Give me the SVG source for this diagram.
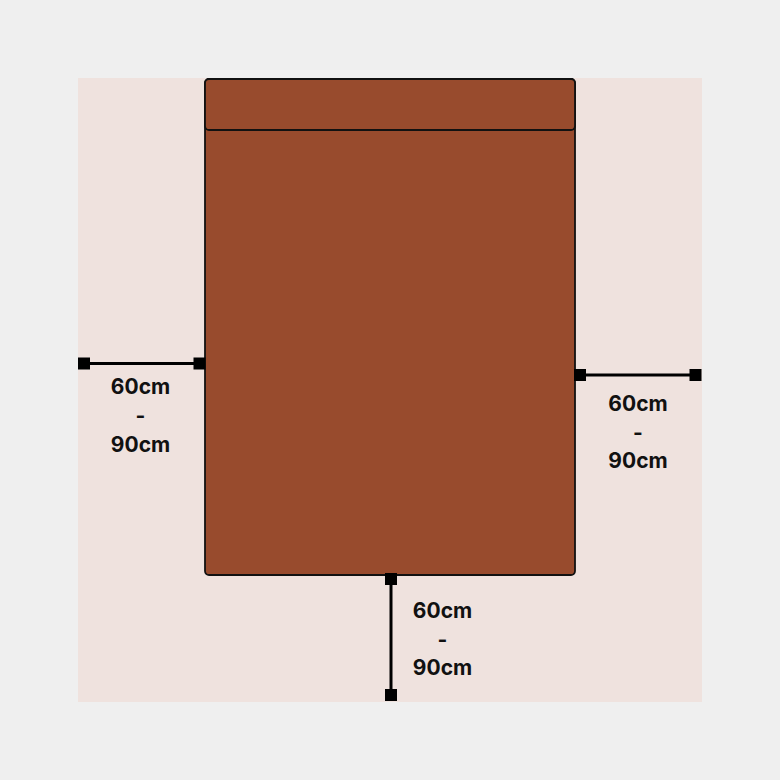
<svg xmlns="http://www.w3.org/2000/svg" width="780" height="780" viewBox="0 0 780 780">
<style>
.bed{fill:#984b2d;stroke:#111;stroke-width:1.8}
.dim{stroke:#000;stroke-width:3;fill:none}
.end{fill:#000}
.lbl{font-family:Inter,"Open Sans","DejaVu Sans",sans-serif;font-weight:700;font-size:21px;fill:#111;text-anchor:middle}
</style>
<rect x="0" y="0" width="780" height="780" fill="#efefef"/>
<rect x="78" y="78" width="624" height="624" fill="#efe2de"/>
<g id="bed">
<rect class="bed" x="205" y="79" width="370" height="496" rx="4"/>
<rect class="bed" x="205" y="79" width="370" height="51" rx="4"/>
</g>
<g id="connectors">
<line class="dim" x1="84" y1="363.5" x2="199.5" y2="363.5"/>
<rect class="end" x="78" y="357.5" width="12" height="12"/>
<rect class="end" x="193.5" y="357.5" width="12" height="12"/>
<line class="dim" x1="580" y1="375" x2="695.5" y2="375"/>
<rect class="end" x="574" y="369" width="12" height="12"/>
<rect class="end" x="689.5" y="369" width="12" height="12"/>
<line class="dim" x1="391" y1="579" x2="391" y2="695"/>
<rect class="end" x="385" y="573" width="12" height="12"/>
<rect class="end" x="385" y="689" width="12" height="12"/>
</g>
<g id="label-left">
<text class="lbl" x="140.5" y="394">60cm</text>
<text class="lbl" x="140.5" y="423">-</text>
<text class="lbl" x="140.5" y="452">90cm</text>
</g>
<g id="label-right">
<text class="lbl" x="638" y="411">60cm</text>
<text class="lbl" x="638" y="440">-</text>
<text class="lbl" x="638" y="468">90cm</text>
</g>
<g id="label-bottom">
<text class="lbl" x="442.5" y="618">60cm</text>
<text class="lbl" x="442.5" y="647">-</text>
<text class="lbl" x="442.5" y="675">90cm</text>
</g>
</svg>
